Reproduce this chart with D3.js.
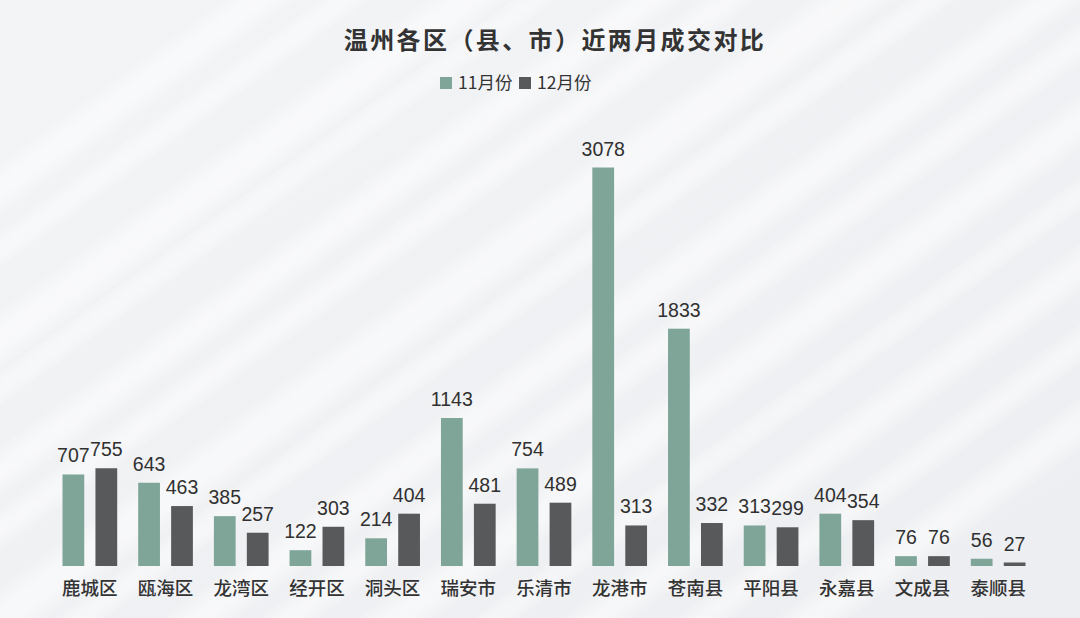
<!DOCTYPE html>
<html>
<head>
<meta charset="utf-8">
<script src="https://cdn.jsdelivr.net/npm/d3@7"></script>
<style>
html,body{margin:0;padding:0;background:#eff0f2;}
svg{display:block;}
</style>
</head>
<body>
<svg id="chart" width="1080" height="618"></svg>
<script>
const categories = ["鹿城区","瓯海区","龙湾区","经开区","洞头区","瑞安市","乐清市","龙港市","苍南县","平阳县","永嘉县","文成县","泰顺县"];
const seriesNames = ["11月份","12月份"];
const novValues = [707,643,385,122,214,1143,754,3078,1833,313,404,76,56];
const decValues = [755,463,257,303,404,481,489,313,332,299,354,76,27];
const colors = ["#7ea597","#58595b"];
const titleText = "温州各区（县、市）近两月成交对比";

const W = 1080, H = 618;
const svg = d3.select("#chart");
const defs = svg.append("defs");

// background
const g0 = defs.append("linearGradient").attr("id","bgGrad").attr("x1","0").attr("y1","0").attr("x2","1").attr("y2","1");
g0.append("stop").attr("offset","0").attr("stop-color","#f3f4f6");
g0.append("stop").attr("offset","1").attr("stop-color","#edeef1");
svg.append("rect").attr("width",W).attr("height",H).attr("fill","url(#bgGrad)");
defs.append("filter").attr("id","blur").attr("x","-20%").attr("y","-20%").attr("width","140%").attr("height","140%")
  .append("feGaussianBlur").attr("stdDeviation",7);
defs.append("filter").attr("id","blur2").attr("x","-20%").attr("y","-20%").attr("width","140%").attr("height","140%")
  .append("feGaussianBlur").attr("stdDeviation",1.5);
const bgG = svg.append("g").attr("transform","translate(540,309) rotate(-36)");
const stripeOffsets = [-430,-375,-310,-262,-200,-150,-85,-30,35,90,150,215,270,335,395];
const stripeW = [30,20,34,18,28,22,36,20,30,24,32,18,28,22,30];
stripeOffsets.forEach((o,i)=>{
  bgG.append("rect").attr("x",-900).attr("y",o).attr("width",1800).attr("height",stripeW[i])
    .attr("fill","#ffffff").attr("opacity",0.5).attr("filter","url(#blur)");
  bgG.append("line").attr("x1",-900).attr("x2",900).attr("y1",o+stripeW[i]).attr("y2",o+stripeW[i])
    .attr("stroke","#ffffff").attr("stroke-width",2).attr("opacity",0.7).attr("filter","url(#blur2)");
});

// scales
const margin = {left:52, right:44};
const x0 = d3.scaleBand().domain(categories).range([margin.left, W - margin.right]).paddingInner(0.2774).paddingOuter(0.1387);
const x1 = d3.scaleBand().domain(seriesNames).range([0, x0.bandwidth()]).paddingInner(0.34);
const y = d3.scaleLinear().domain([0, d3.max(novValues)]).range([566, 167.5]);

const data = categories.map((c,i)=>({cat:c, vals:[novValues[i], decValues[i]]}));

const groups = svg.append("g").selectAll("g").data(data).join("g")
  .attr("transform", d=>`translate(${x0(d.cat)},0)`);

groups.selectAll("rect").data(d=>d.vals.map((v,j)=>({s:seriesNames[j], v, j}))).join("rect")
  .attr("x", d=>x1(d.s))
  .attr("y", d=>y(d.v))
  .attr("width", x1.bandwidth())
  .attr("height", d=>y(0)-y(d.v))
  .attr("fill", d=>colors[d.j]);

groups.selectAll("text.val").data(d=>d.vals.map((v,j)=>({s:seriesNames[j], v, j}))).join("text")
  .attr("class","val")
  .attr("x", d=>x1(d.s)+x1.bandwidth()/2)
  .attr("y", d=>y(d.v)-12)
  .attr("text-anchor","middle")
  .attr("font-family","Liberation Sans, Arial, sans-serif")
  .attr("font-size",19.5)
  .attr("fill","#303030")
  .text(d=>d.v);

// category axis labels
const xAxis = d3.axisBottom(x0).tickSize(0).tickPadding(0);
const ax = svg.append("g").attr("transform","translate(0,566)").call(xAxis);
ax.select(".domain").remove();
ax.selectAll("text")
  .attr("y",29)
  .attr("dy",0)
  .attr("font-family","Noto Sans CJK SC, sans-serif")
  .attr("font-size",18.5)
  .attr("font-weight",500)
  .attr("fill","#333");

// title
svg.append("text").attr("x",555).attr("y",49).attr("text-anchor","middle")
  .attr("font-family","Noto Sans CJK SC, sans-serif").attr("font-size",24).attr("font-weight",700)
  .attr("letter-spacing","2.4px").attr("fill","#333").text(titleText);

// legend
const legendX = [440, 519];
const lg = svg.append("g").selectAll("g").data(seriesNames).join("g")
  .attr("transform",(d,i)=>`translate(${legendX[i]},0)`);
lg.append("rect").attr("x",0).attr("y",77).attr("width",12).attr("height",12).attr("fill",(d,i)=>colors[i]);
lg.append("text").attr("x",18).attr("y",89)
  .attr("font-family","Noto Sans CJK SC, sans-serif").attr("font-size",17.5).attr("fill","#333").text(d=>d);
</script>
</body>
</html>
